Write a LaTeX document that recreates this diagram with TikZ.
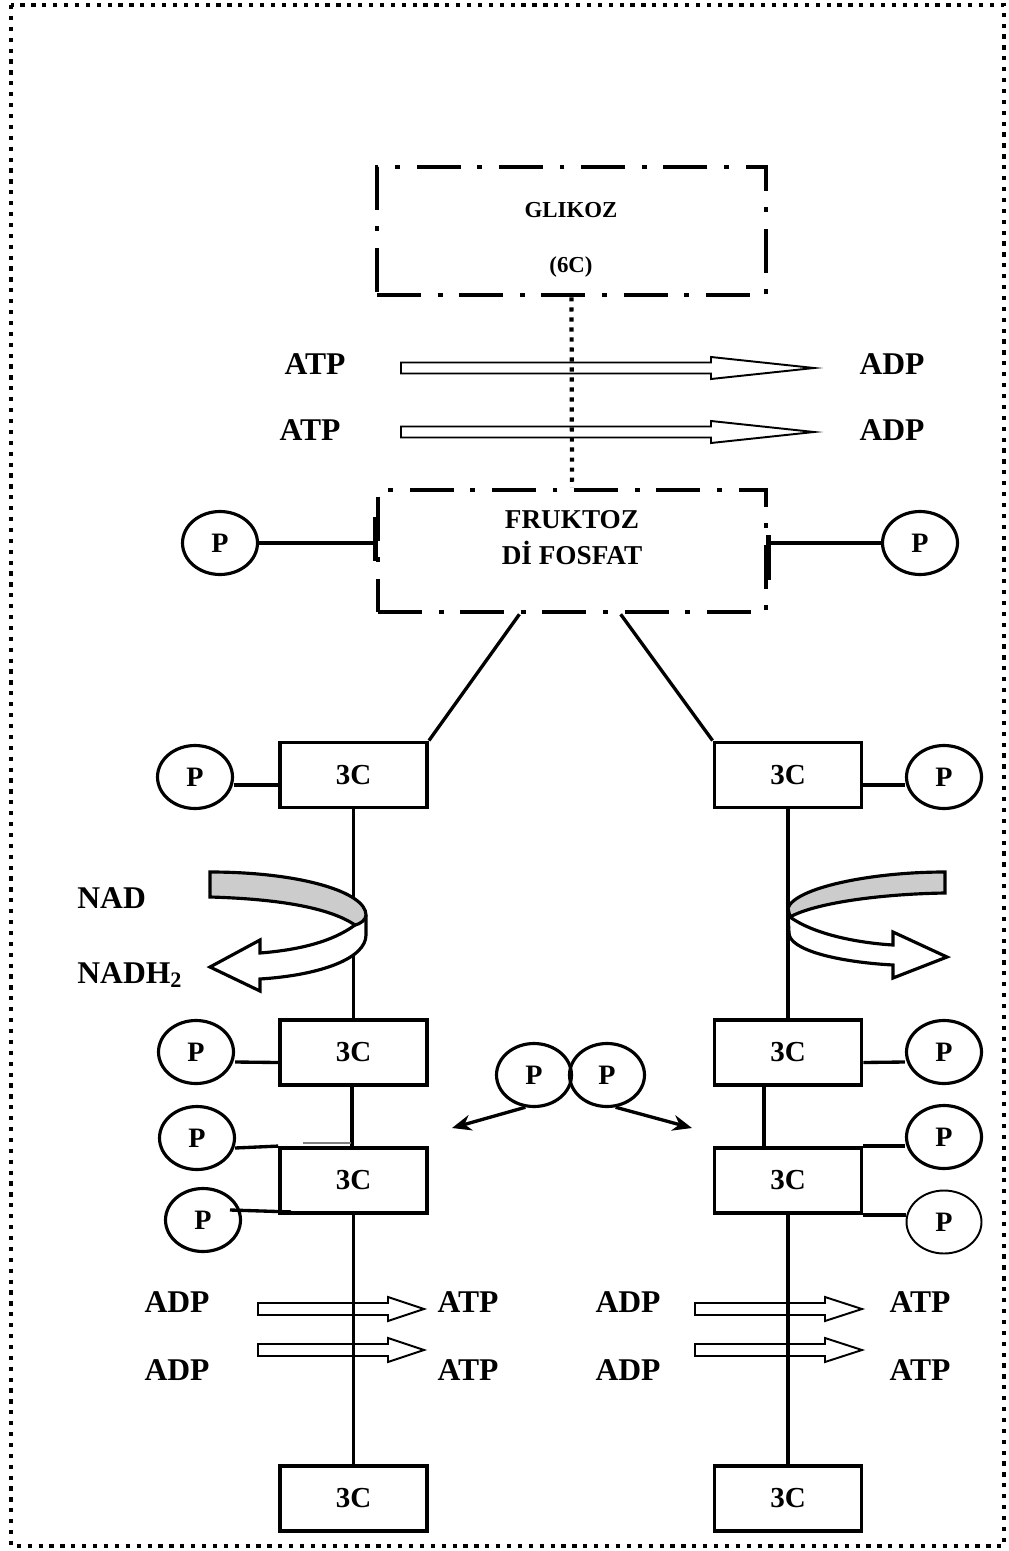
\documentclass[tikz,border=0pt]{standalone}
\usepackage{fontspec}
\setmainfont{Liberation Serif}
\usetikzlibrary{shapes.geometric,calc,arrows.meta}
\newcommand\hollowarr[6]{\draw[hollowline] (#1,#4-#5) -- (#2,#4-#5) -- (#2,#4-#6) -- (#3,#4) -- (#2,#4+#6) -- (#2,#4+#5) -- (#1,#4+#5) -- cycle;}
\begin{document}
\begin{tikzpicture}[x=0.02cm,y=-0.02cm,
  lbl/.style={inner sep=0pt, font=\fontsize{18}{21}\selectfont\bfseries},
  pc/.style={ellipse, draw, line width=1.8pt, minimum width=1.5cm, minimum height=1.26cm, inner sep=0pt, font=\fontsize{16}{19}\selectfont\bfseries},
  cbox/.style={rectangle, draw, line width=2.2pt, minimum width=2.94cm, minimum height=1.3cm, inner sep=0pt, font=\fontsize{16.5}{19}\selectfont\bfseries},
  dbox/.style={rectangle, draw, line width=2.6pt, dash pattern=on 25pt off 9.5pt on 2.8pt off 9.5pt, inner sep=0pt},
  conn/.style={line width=1.9pt},
  hollowline/.style={line width=1.1pt, fill=white},
  dotline/.style={line width=2.4pt, dash pattern=on 2.4pt off 3.3pt},
  ribbon/.style={line width=1.8pt}]
\useasboundingbox (0,0) rectangle (1008,1551);
% outer dotted frame
\draw[line width=2.4pt, dash pattern=on 2.4pt off 3.8pt] (11,5) rectangle (1004,1546);

% top boxes
\node[dbox, minimum width=7.78cm, minimum height=2.56cm] (glikoz) at (571.5,231) {};
\node[inner sep=0pt, font=\fontsize{13}{15}\selectfont\bfseries] (tgl) at (571,210) {GLIKOZ};
\node[inner sep=0pt, font=\fontsize{13}{15}\selectfont\bfseries] (t6c) at (571,267) {(6C)};
\node[dbox, minimum width=7.76cm, minimum height=2.44cm] (fruktoz) at (572,551) {};
\node[inner sep=0pt, font=\fontsize{15.5}{18}\selectfont\bfseries] (tfr1) at (572,520) {FRUKTOZ};
\node[inner sep=0pt, font=\fontsize{15.5}{18}\selectfont\bfseries] (tfr2) at (572,553) {Dİ FOSFAT};

% ATP -> ADP arrows (top)
\hollowarr{401}{711}{814}{368}{5.5}{11}
\hollowarr{401}{711}{814}{432}{5.5}{11}
\draw[dotline] (glikoz.south) -- (fruktoz.north);
\node[lbl] (atp1) at (315,364.5) {ATP};
\node[lbl] (atp2) at (310,430) {ATP};
\node[lbl] (adp1) at (892,364.5) {ADP};
\node[lbl] (adp2) at (892,430) {ADP};

% phosphates of fructose
\node[pc] (pf1) at (220,543) {P};
\node[pc] (pf2) at (920,543) {P};
\draw[conn] (pf1.east) -- (pf1.east -| fruktoz.west);
\draw[conn] (pf2.west) -- (pf2.west -| fruktoz.east);
\draw[line width=2.6pt] (fruktoz.west |- 0,517) -- (fruktoz.west |- 0,561);
\draw[line width=2.6pt] (fruktoz.east |- 0,535) -- (fruktoz.east |- 0,580);

% 3C boxes
\node[cbox] (L1) at (353.5,775) {3C};
\node[cbox] (R1) at (788,775) {3C};
\node[cbox] (L2) at (353.5,1052.5) {3C};
\node[cbox] (R2) at (788,1052.5) {3C};
\node[cbox] (L3) at (353.5,1180.5) {3C};
\node[cbox] (R3) at (788,1180.5) {3C};
\node[cbox] (L4) at (353.5,1498.5) {3C};
\node[cbox] (R4) at (788,1498.5) {3C};

\draw[conn] ($(fruktoz.south west)!0.366!(fruktoz.south east)$) -- (L1.north east);
\draw[conn] ($(fruktoz.south west)!0.624!(fruktoz.south east)$) -- (R1.north west);

% bottom hollow arrows
\hollowarr{258}{388}{424}{1309}{6}{12}
\hollowarr{258}{388}{424}{1350}{6}{12}
\hollowarr{695}{825}{862}{1309}{6}{12}
\hollowarr{695}{825}{862}{1350}{6}{12}

% vertical chains
\draw[conn] (L1.south) -- (L2.north);
\draw[conn] (R1.south) -- (R2.north);
\draw[conn] ($(L2.south)+(-1.5,0)$) -- ($(L3.north)+(-1.5,0)$);
\draw[conn] ($(R2.south)+(-24,0)$) -- ($(R3.north)+(-24,0)$);
\draw[conn] (L3.south) -- (L4.north);
\draw[conn] (R3.south) -- (R4.north);

% phosphates on 3C boxes
\node[pc] (pL1) at (195,777) {P};
\node[pc] (pR1) at (944,777) {P};
\node[pc] (pL2) at (196,1052) {P};
\node[pc] (pR2) at (944,1052) {P};
\node[pc] (pL3) at (197,1138) {P};
\node[pc] (pR3) at (944,1137) {P};
\node[pc] (pL4) at (203,1220) {P};
\node[pc, line width=1.1pt] (pR4) at (944,1222) {P};

\draw[conn] ($(pL1.east)+(0,8)$) -- ($(L1.west)+(0,10)$);
\draw[conn] ($(R1.east)+(0,10)$) -- ($(pR1.west)+(0,8)$);
\draw[conn] ($(pL2.east)+(0,10)$) -- ($(L2.west)+(0,10)$);
\draw[conn] ($(R2.east)+(0,10)$) -- ($(pR2.west)+(0,10)$);
\draw[conn] ($(pL3.east)+(-1,10)$) -- (L3.north west);
\draw[conn] ($(pL4.center)+(27,-10)$) -- ($(L3.south west)+(13,-3)$);
\draw[gray, line width=1pt] ($(L3.north west)+(25,-3)$) -- ($(L3.north)+(-3,-3)$);
\draw[conn] (R3.north east) -- (R3.north east -| pR3.west);
\draw[conn] (R3.south east) -- (R3.south east -| pR4.west);

% middle pair of phosphates
\node[pc] (pm1) at (534,1075) {P};
\node[pc] (pm2) at (607,1075) {P};
\coordinate (aL) at (452,1128);
\coordinate (aR) at (692,1128);
\draw[conn, -{Stealth[length=11pt,width=9pt]}] (pm1.-105) -- (aL);
\draw[conn, -{Stealth[length=11pt,width=9pt]}] (pm2.-75) -- (aR);

% NAD curved arrow, left
\draw[ribbon, fill=white] (355,925) .. controls (332,942) and (298,950) .. (260,953) -- (260,940) -- (210,967) -- (260,991) -- (260,979) .. controls (322,975) and (366,958) .. (366,935) -- (366,918) -- cycle;
\draw[ribbon, fill=gray!40] (210,872) .. controls (300,872) and (366,892) .. (366,915) .. controls (366,920) and (360,924) .. (355,925) .. controls (330,908) and (280,899) .. (210,897) -- cycle;
% right curved arrow
\draw[ribbon, fill=white] (790,917) .. controls (815,935) and (860,943) .. (893,945) -- (893,932) -- (947,957) -- (893,978) -- (893,965) .. controls (838,962) and (789,950) .. (789,933) -- (788,912) -- cycle;
\draw[ribbon, fill=gray!40] (945,872) .. controls (870,872) and (795,888) .. (788,908) -- (790,917) .. controls (815,903) and (880,894) .. (945,893) -- cycle;

\node[lbl, anchor=base west] (nad) at (77,908) {NAD};
\node[lbl, anchor=base west] (nadh) at (77,983) {NADH\textsubscript{2}};

% bottom labels
\node[lbl] (adpL1) at (177,1302) {ADP};
\node[lbl] (atpL1) at (468,1302) {ATP};
\node[lbl] (adpL2) at (177,1370) {ADP};
\node[lbl] (atpL2) at (468,1370) {ATP};
\node[lbl] (adpR1) at (628,1302) {ADP};
\node[lbl] (atpR1) at (920,1302) {ATP};
\node[lbl] (adpR2) at (628,1370) {ADP};
\node[lbl] (atpR2) at (920,1370) {ATP};
\end{tikzpicture}
\end{document}
